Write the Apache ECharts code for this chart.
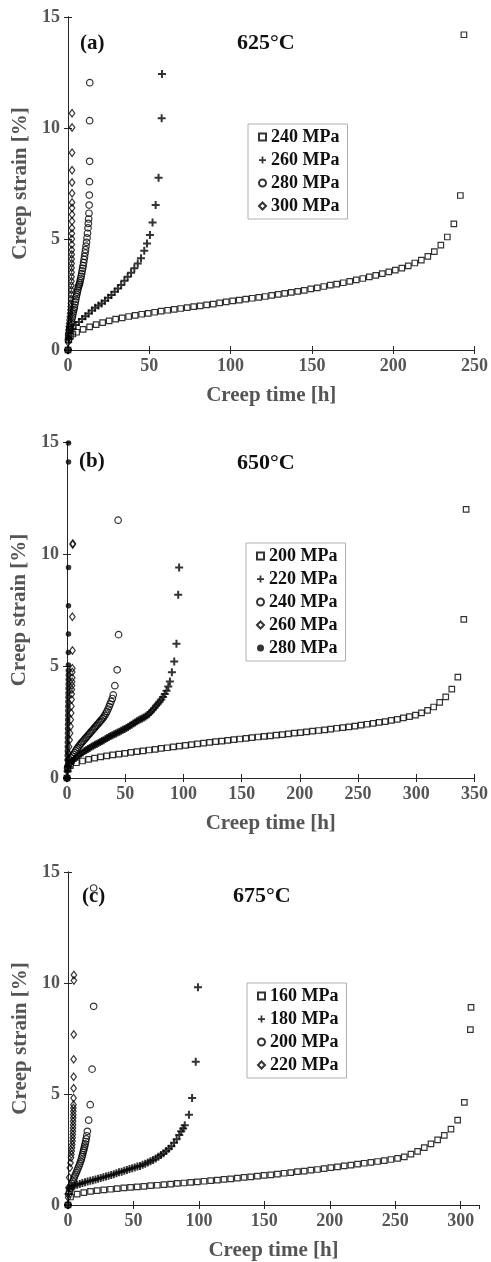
<!DOCTYPE html>
<html>
<head>
<meta charset="utf-8">
<script src="https://cdn.jsdelivr.net/npm/echarts@6/dist/echarts.min.js"></script>
<style>
  html, body { margin: 0; padding: 0; background: #fff; }
  #chart { width: 491px; height: 1262px; }
</style>
</head>
<body>
<div id="chart"></div>
<script>
  // ---- data: [creep time h, creep strain %] ----
  // (a) 625°C
  var a240 = [[0,0],[0.5,0.45],[1.5,0.62],[3,0.72],[5.3,0.80],[9.3,0.93],[13.3,1.04],[17.3,1.14],[21.3,1.23],[25.3,1.31],[29.3,1.39],[33.3,1.45],[37.3,1.51],[41.3,1.56],[45.3,1.61],[49.3,1.65],[53.3,1.70],[57.3,1.75],[61.3,1.79],[65.3,1.83],[69.3,1.87],[73.3,1.91],[77.3,1.95],[81.3,1.99],[85.3,2.03],[89.3,2.07],[93.3,2.12],[97.3,2.17],[101.3,2.21],[105.3,2.25],[109.3,2.29],[113.3,2.33],[117.3,2.37],[121.3,2.41],[125.3,2.46],[129.3,2.51],[133.3,2.55],[137.3,2.60],[141.3,2.64],[145.3,2.69],[149.3,2.75],[153.3,2.80],[157.3,2.86],[161.3,2.92],[165.3,2.97],[169.3,3.03],[173.3,3.09],[177.3,3.16],[181.3,3.22],[185.3,3.29],[189.3,3.36],[193.3,3.44],[197.3,3.52],[201.3,3.60],[205.3,3.69],[209.3,3.79],[213.3,3.92],[217.3,4.05],[221.3,4.22],[225.3,4.43],[229.3,4.72],[233.3,5.09],[237.3,5.68],[241.3,6.96],[243.5,14.2]];
  var a260 = [[0,0],[0.7,0.5],[2.7,0.95],[4.7,1.13],[6.7,1.26],[8.7,1.4],[10.7,1.52],[12.7,1.64],[14.7,1.78],[16.7,1.9],[18.7,2.0],[20.7,2.1],[22.7,2.22],[24.7,2.35],[26.7,2.48],[28.7,2.62],[30.7,2.77],[32.7,2.93],[34.7,3.12],[36.7,3.3],[38.8,3.48],[40.8,3.68],[42.9,3.9],[44.9,4.13],[46.9,4.47],[48.6,4.8],[50.4,5.18],[52,5.74],[53.9,6.53],[55.7,7.76],[57.6,10.44],[57.8,12.43]];
  var a280 = [[0,0],[0.2,0.45],[0.4,0.65],[0.6,0.75],[0.9,0.9],[1.2,1.0],[1.5,1.1],[1.8,1.2],[2.1,1.3],[2.4,1.42],[2.7,1.5],[3.0,1.62],[3.3,1.72],[3.6,1.82],[3.9,1.92],[4.2,2.05],[4.5,2.17],[4.8,2.28],[5.1,2.4],[5.4,2.5],[5.7,2.6],[6.0,2.7],[6.3,2.8],[6.6,2.88],[6.9,2.95],[7.2,3.02],[7.5,3.12],[7.8,3.22],[8.1,3.32],[8.4,3.44],[8.7,3.56],[9.0,3.68],[9.3,3.8],[9.6,3.94],[9.9,4.08],[10.2,4.22],[10.5,4.37],[10.8,4.52],[11.1,4.68],[11.4,4.85],[11.7,5.05],[12.0,5.26],[12.3,5.5],[12.5,5.7],[12.7,5.9],[12.9,6.16],[13.0,6.53],[13.1,6.98],[13.2,7.58],[13.3,8.5],[13.3,10.33],[13.4,12.04]];
  var a300 = [[0,0],[0.05,0.35],[0.1,0.55],[0.2,0.75],[0.35,0.9],[0.5,1.05],[0.7,1.2],[0.9,1.35],[1.1,1.5],[1.3,1.65],[1.5,1.8],[1.65,1.95],[1.8,2.1],[1.9,2.3],[2.0,2.5],[2.05,2.7],[2.1,2.9],[2.15,3.1],[2.2,3.3],[2.22,3.5],[2.25,3.7],[2.28,3.9],[2.3,4.1],[2.32,4.3],[2.35,4.5],[2.37,4.75],[2.4,5.0],[2.42,5.25],[2.44,5.5],[2.46,5.8],[2.48,6.1],[2.5,6.4],[2.5,6.64],[2.5,7.06],[2.5,7.54],[2.5,8.1],[2.5,8.89],[2.5,10.02],[2.5,10.66]];

  // (b) 650°C
  var b200 = [[0,0],[0.8,0.4],[2.9,0.55],[8.1,0.68],[13.3,0.76],[18.5,0.83],[23.7,0.89],[28.9,0.94],[34.1,0.99],[39.3,1.03],[44.5,1.07],[49.7,1.10],[54.9,1.14],[60.1,1.18],[65.3,1.21],[70.5,1.25],[75.7,1.28],[80.9,1.32],[86.1,1.35],[91.3,1.39],[96.5,1.42],[101.7,1.46],[106.9,1.49],[112.1,1.52],[117.3,1.56],[122.5,1.59],[127.7,1.62],[132.9,1.65],[138.1,1.68],[143.3,1.71],[148.5,1.74],[153.7,1.77],[158.9,1.80],[164.1,1.83],[169.3,1.86],[174.5,1.88],[179.7,1.91],[184.9,1.94],[190.1,1.97],[195.3,2.00],[200.5,2.03],[205.7,2.06],[210.9,2.09],[216.1,2.12],[221.3,2.15],[226.5,2.18],[231.7,2.22],[236.9,2.25],[242.1,2.28],[247.3,2.32],[252.5,2.36],[257.7,2.40],[262.9,2.44],[268.1,2.48],[273.3,2.52],[278.5,2.57],[283.7,2.62],[288.9,2.68],[294.1,2.74],[299.3,2.81],[304.5,2.91],[309.7,3.02],[314.9,3.17],[320.1,3.38],[325.3,3.62],[330.5,3.97],[335.7,4.50],[340.8,7.08],[342.8,11.99]];
  var b220 = [[0,0],[0.5,0.3],[1.5,0.5],[3,0.66],[4.5,0.76],[6,0.84],[7.5,0.9],[9,0.97],[10.5,1.03],[12,1.09],[13.5,1.14],[15,1.2],[16.5,1.25],[18,1.29],[19.5,1.34],[21,1.39],[22.5,1.44],[24,1.48],[25.5,1.52],[27,1.56],[28.5,1.61],[30,1.65],[31.5,1.69],[33,1.74],[34.5,1.79],[36,1.83],[37.5,1.87],[39,1.91],[40.5,1.95],[42,1.99],[43.5,2.03],[45,2.07],[46.5,2.11],[48,2.15],[49.5,2.19],[51,2.23],[52.5,2.28],[54,2.33],[55.5,2.38],[57,2.43],[58.5,2.48],[60,2.53],[61.5,2.58],[63,2.62],[64.5,2.66],[66,2.7],[67.5,2.74],[69,2.8],[70.5,2.87],[72,2.95],[73.5,3.04],[75,3.13],[76.5,3.22],[78,3.31],[79.5,3.4],[81,3.51],[82.5,3.62],[84,3.75],[85.5,3.9],[87,4.08],[88.4,4.31],[90.1,4.72],[92.1,5.2],[94,5.99],[95.5,8.18],[96.3,9.4]];
  var b240 = [[0,0],[0.5,0.45],[1.5,0.65],[2.5,0.8],[3.5,0.9],[4.5,0.98],[5.5,1.05],[6.5,1.13],[7.5,1.22],[8.5,1.3],[9.5,1.37],[10.5,1.44],[11.5,1.51],[12.5,1.57],[13.5,1.63],[14.5,1.69],[15.5,1.75],[16.5,1.81],[17.5,1.87],[18.5,1.93],[19.5,1.99],[20.5,2.05],[21.5,2.11],[22.5,2.17],[23.5,2.23],[24.5,2.29],[25.5,2.35],[26.5,2.41],[27.5,2.47],[28.5,2.53],[29.5,2.59],[30.5,2.65],[31.5,2.72],[32.5,2.8],[33.5,2.89],[34.3,2.97],[35.3,3.08],[36.2,3.19],[37,3.3],[37.9,3.42],[39,3.55],[39.7,3.71],[41.1,4.12],[43.1,4.83],[44.3,6.4],[43.9,11.51]];
  var b260 = [[0,0],[0.3,0.5],[0.8,0.8],[1.3,1.1],[1.8,1.4],[2.3,1.7],[2.7,2.0],[3.0,2.3],[3.3,2.6],[3.6,2.9],[3.8,3.2],[4.0,3.5],[4.1,3.75],[4.2,3.95],[4.3,4.13],[4.4,4.3],[4.5,4.48],[4.5,4.73],[4.6,4.9],[4.7,5.69],[4.6,7.2],[4.9,10.42],[5.0,10.47]];
  var b280 = [[0,0],[0.05,0.3],[0.1,0.55],[0.15,0.8],[0.2,1.0],[0.25,1.2],[0.3,1.4],[0.35,1.6],[0.4,1.8],[0.45,2.0],[0.5,2.2],[0.55,2.4],[0.6,2.6],[0.65,2.8],[0.7,3.0],[0.75,3.2],[0.8,3.4],[0.85,3.6],[0.9,3.8],[0.95,4.0],[1.0,4.2],[1.05,4.4],[1.1,4.6],[1.15,4.8],[1.2,5.05],[1.2,5.6],[1.25,6.43],[1.25,7.69],[1.3,9.4],[1.3,14.11],[1.3,14.96]];

  // (c) 675°C
  var c160 = [[0,0],[1.9,0.36],[7.0,0.49],[12.1,0.56],[17.2,0.61],[22.3,0.65],[27.4,0.68],[32.5,0.71],[37.6,0.74],[42.7,0.77],[47.8,0.79],[52.9,0.82],[58.0,0.84],[63.1,0.87],[68.2,0.89],[73.3,0.92],[78.4,0.94],[83.5,0.97],[88.6,0.99],[93.7,1.02],[98.8,1.04],[103.9,1.07],[109.0,1.10],[114.1,1.12],[119.2,1.15],[124.3,1.18],[129.4,1.21],[134.5,1.24],[139.6,1.27],[144.7,1.30],[149.8,1.33],[154.9,1.36],[160.0,1.39],[165.1,1.43],[170.2,1.46],[175.3,1.50],[180.4,1.53],[185.5,1.57],[190.6,1.60],[195.7,1.64],[200.8,1.68],[205.9,1.72],[211.0,1.76],[216.1,1.80],[221.2,1.84],[226.3,1.88],[231.4,1.92],[236.5,1.96],[241.6,2.00],[246.7,2.05],[251.8,2.10],[256.9,2.17],[262.0,2.29],[267.1,2.42],[272.2,2.58],[277.3,2.75],[282.4,2.93],[287.5,3.14],[292.6,3.42],[297.7,3.82],[302.8,4.62],[307.4,7.90],[307.9,8.90]];
  var c180 = [[0,0],[0.5,0.5],[1.3,0.75],[3,0.82],[5,0.87],[7,0.91],[9,0.95],[11,0.99],[13,1.03],[15,1.06],[17,1.09],[19,1.12],[21,1.15],[23,1.18],[25,1.22],[27,1.25],[29,1.28],[31,1.32],[33,1.35],[35,1.39],[37,1.43],[39,1.47],[41,1.5],[43,1.54],[45,1.58],[47,1.62],[49,1.65],[51,1.69],[53,1.73],[55,1.76],[57,1.81],[59,1.86],[61,1.91],[63,1.97],[65,2.03],[67,2.1],[69,2.17],[71,2.25],[73,2.33],[75,2.43],[77,2.53],[79,2.65],[81,2.8],[83,2.96],[85,3.15],[86.5,3.32],[88,3.45],[89.2,3.59],[92.4,4.07],[94.8,4.82],[97.6,6.45],[99.3,9.81]];
  var c200 = [[0,0],[0.5,0.49],[1.2,0.62],[1.9,0.74],[2.5,0.86],[3.1,0.96],[3.7,1.06],[4.3,1.16],[4.9,1.26],[5.6,1.36],[6.4,1.46],[7.0,1.56],[7.7,1.66],[8.4,1.76],[9.0,1.86],[9.6,1.96],[10.2,2.06],[10.7,2.17],[11.1,2.26],[11.5,2.36],[11.9,2.46],[12.3,2.55],[12.7,2.65],[13.1,2.75],[13.5,2.86],[13.9,2.98],[14.3,3.12],[14.8,3.32],[15.8,3.82],[17,4.52],[18.4,6.12],[19.6,8.95],[19.6,14.28]];
  var c220 = [[0,0],[0.1,0.34],[0.4,0.79],[0.9,1.24],[1.4,1.68],[1.9,1.9],[2.3,2.13],[2.6,2.28],[2.9,2.43],[3.1,2.58],[3.3,2.73],[3.5,2.88],[3.6,3.03],[3.7,3.18],[3.8,3.32],[3.85,3.47],[3.9,3.62],[3.95,3.77],[4.0,3.92],[4.05,4.07],[4.1,4.22],[4.15,4.37],[4.2,4.52],[4.25,4.82],[4.3,5.26],[4.3,5.78],[4.3,6.56],[4.4,7.68],[4.5,10.11],[4.5,10.36]];

  var xMax = [250, 350, 314];
  var temps = ['625°C', '650°C', '675°C'];
  var tags = ['(a)', '(b)', '(c)'];

  var chart = echarts.init(document.getElementById('chart'));
  var FONT = '"Liberation Serif", "DejaVu Serif", serif';
  var INK = '#000';
  var PLUS = 'path://M3,0H5V3H8V5H5V8H3V5H0V3H3Z';

  // 每个子图的位置
  var grids = [
    {left: 68, top: 17, width: 410, height: 333},
    {left: 67, top: 442, width: 411, height: 336},
    {left: 68, top: 872, width: 411, height: 336}
  ];

  var xAxes = [], yAxes = [];
  grids.forEach(function (g, i) {
    xAxes.push({
      gridIndex: i, type: 'value', min: 0, max: xMax[i], interval: 50,
      name: 'Creep time [h]', nameLocation: 'middle', nameGap: 35,
      nameTextStyle: {fontFamily: FONT, fontSize: 21, fontWeight: 'bold', color: '#555'},
      axisLine: {lineStyle: {color: '#262626'}},
      axisTick: {inside: true, length: 4, lineStyle: {color: '#262626'}},
      axisLabel: {fontFamily: FONT, fontSize: 18, fontWeight: 'bold', color: '#555', margin: 7,
        showMaxLabel: i !== 2},
      splitLine: {show: false}
    });
    xAxes.push({
      gridIndex: i, type: 'value', position: 'top', min: 0, max: xMax[i], interval: 50,
      axisLine: {lineStyle: {color: '#262626'}},
      axisTick: {inside: true, length: 4, lineStyle: {color: '#262626'}},
      axisLabel: {show: false}, splitLine: {show: false}
    });
    yAxes.push({
      gridIndex: i, type: 'value', min: 0, max: 15, interval: 5,
      name: 'Creep strain [%]', nameLocation: 'middle', nameGap: 33,
      nameTextStyle: {fontFamily: FONT, fontSize: 21, fontWeight: 'bold', color: '#555'},
      axisLine: {show: true, lineStyle: {color: '#262626'}},
      axisTick: {show: true, inside: true, length: 4, lineStyle: {color: '#262626'}},
      axisLabel: {fontFamily: FONT, fontSize: 18, fontWeight: 'bold', color: '#555', margin: 8},
      splitLine: {show: false}
    });
    yAxes.push({
      gridIndex: i, type: 'value', position: 'right', min: 0, max: 15, interval: 5,
      axisLine: {show: true, lineStyle: {color: '#262626'}},
      axisTick: {show: true, inside: true, length: 4, lineStyle: {color: '#262626'}},
      axisLabel: {show: false}, splitLine: {show: false}
    });
  });

  var marks = {
    square: {symbol: 'rect', symbolSize: 5.5, filled: false},
    plus: {symbol: PLUS, symbolSize: 8, filled: true},
    circle: {symbol: 'circle', symbolSize: 6.5, filled: false},
    diamond: {symbol: 'diamond', symbolSize: [5.5, 7.5], filled: false},
    star: {symbol: 'circle', symbolSize: 5.5, filled: true}
  };

  function sc(name, data, gi, kind) {
    var m = marks[kind];
    return {
      name: name, type: 'scatter', data: data,
      xAxisIndex: gi * 2, yAxisIndex: gi * 2,
      symbol: m.symbol, symbolSize: m.symbolSize,
      itemStyle: m.filled ? {color: INK} : {color: 'rgba(0,0,0,0)', borderColor: INK, borderWidth: 1.2},
      emphasis: {disabled: true}
    };
  }

  var series = [
    sc('a|240 MPa', a240, 0, 'square'),
    sc('a|260 MPa', a260, 0, 'plus'),
    sc('a|280 MPa', a280, 0, 'circle'),
    sc('a|300 MPa', a300, 0, 'diamond'),
    sc('b|200 MPa', b200, 1, 'square'),
    sc('b|220 MPa', b220, 1, 'plus'),
    sc('b|240 MPa', b240, 1, 'circle'),
    sc('b|260 MPa', b260, 1, 'diamond'),
    sc('b|280 MPa', b280, 1, 'star'),
    sc('c|160 MPa', c160, 2, 'square'),
    sc('c|180 MPa', c180, 2, 'plus'),
    sc('c|200 MPa', c200, 2, 'circle'),
    sc('c|220 MPa', c220, 2, 'diamond')
  ];

  function lg(prefix, left, top) {
    return {
      orient: 'vertical', left: left, top: top,
      data: series.filter(function (s) { return s.name.indexOf(prefix + '|') === 0; })
        .map(function (s) { return s.name; }),
      formatter: function (n) { return n.split('|')[1]; },
      backgroundColor: '#fff', borderColor: '#b0b0b0', borderWidth: 1, borderRadius: 0,
      padding: [4, 8, 4, 10], itemGap: 5, itemWidth: 7, itemHeight: 7,
      selectedMode: false,
      textStyle: {fontFamily: FONT, fontSize: 18, fontWeight: 'bold', color: '#111', lineHeight: 18}
    };
  }

  var titles = [];
  var tagPos = [[80, 33], [79, 451], [82, 886]];
  var tempPos = [[237, 32], [237, 452], [233, 885]];
  for (var i = 0; i < 3; i++) {
    titles.push({text: tags[i], left: tagPos[i][0], top: tagPos[i][1], padding: 0,
      textStyle: {fontFamily: FONT, fontSize: 21, fontWeight: 'bold', color: '#111'}});
    titles.push({text: temps[i], left: tempPos[i][0], top: tempPos[i][1], padding: 0,
      textStyle: {fontFamily: FONT, fontSize: 22, fontWeight: 'bold', color: '#111'}});
  }

  chart.setOption({
    animation: false,
    backgroundColor: '#fff',
    title: titles,
    grid: grids,
    xAxis: xAxes,
    yAxis: yAxes,
    legend: [lg('a', 248, 124), lg('b', 246, 543), lg('c', 247, 983)],
    series: series
  });
</script>
</body>
</html>
